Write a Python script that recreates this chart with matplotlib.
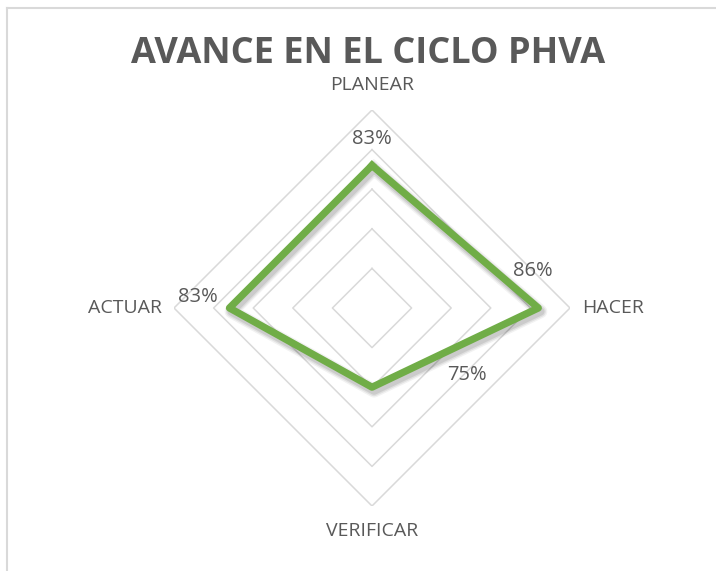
import matplotlib.pyplot as plt
import matplotlib.patheffects as pe
from matplotlib.lines import Line2D
import numpy as np

# data
categories = ["PLANEAR", "HACER", "VERIFICAR", "ACTUAR"]
values = [0.83, 0.86, 0.75, 0.83]
ring_levels = [0.70, 0.75, 0.80, 0.85, 0.90]
r_min, r_max = 0.65, 0.90

TEXT = "#595959"
GRID = "#D9D9D9"
GREEN = "#70AD47"

fig = plt.figure(figsize=(7.16, 5.71), dpi=100)
W, H = 716, 571

# chart border (extends past right/bottom edge like the original crop)
fig.add_artist(Line2D([7.5 / W, 7.5 / W], [0, 1 - 7.5 / H], color=GRID, lw=1.5))
fig.add_artist(Line2D([7.5 / W, 1], [1 - 7.5 / H, 1 - 7.5 / H], color=GRID, lw=1.5))

cx, cy, R = 372, 308, 198
ax = fig.add_axes([(cx - R) / W, (H - cy - R) / H, 2 * R / W, 2 * R / H], polar=True)
ax.set_theta_zero_location("N")
ax.set_theta_direction(-1)
ax.set_rlim(r_min, r_max)
ax.grid(False)
ax.spines["polar"].set_visible(False)
ax.set_xticks([])
ax.set_yticks([])
ax.patch.set_alpha(0)

angles = np.arange(len(categories)) * 2 * np.pi / len(categories)
closed = np.append(angles, angles[0])

# diamond gridlines
for lvl in ring_levels:
    ax.plot(closed, [lvl] * len(closed), color=GRID, lw=1.1, zorder=1)

# series with a soft drop shadow
vals = values + values[:1]
shadow = [pe.SimpleLineShadow(offset=(1.5, -2.5), shadow_color="black", alpha=a, linewidth=w)
          for a, w in [(0.05, 10), (0.07, 8), (0.09, 6)]]
ax.plot(closed, vals, color=GREEN, lw=5.2, solid_joinstyle="round", zorder=3,
        path_effects=shadow + [pe.Normal()])

# category labels
cat_offsets = [(0, 18), (31, 0), (0, -18), (-35, 0)]
for a, name, off in zip(angles, categories, cat_offsets):
    ax.annotate(name, (a, r_max), xytext=off, textcoords="offset points",
                ha="center", va="center", fontsize=14, color=TEXT,
                family="Open Sans", annotation_clip=False)

# data labels
lab_offsets = [(0, 19), (-4, 27), (68, 9), (-23, 8)]
for a, v, off in zip(angles, values, lab_offsets):
    ax.annotate(f"{v:.0%}", (a, v), xytext=off, textcoords="offset points",
                ha="center", va="center", fontsize=14.5, color=TEXT,
                family="Open Sans", annotation_clip=False)

fig.text(368 / W, 1 - 54 / H, "AVANCE EN EL CICLO PHVA", ha="center", va="center",
         fontsize=26, fontweight="bold", color=TEXT, family="Open Sans")

fig.savefig("out.png", dpi=100)
